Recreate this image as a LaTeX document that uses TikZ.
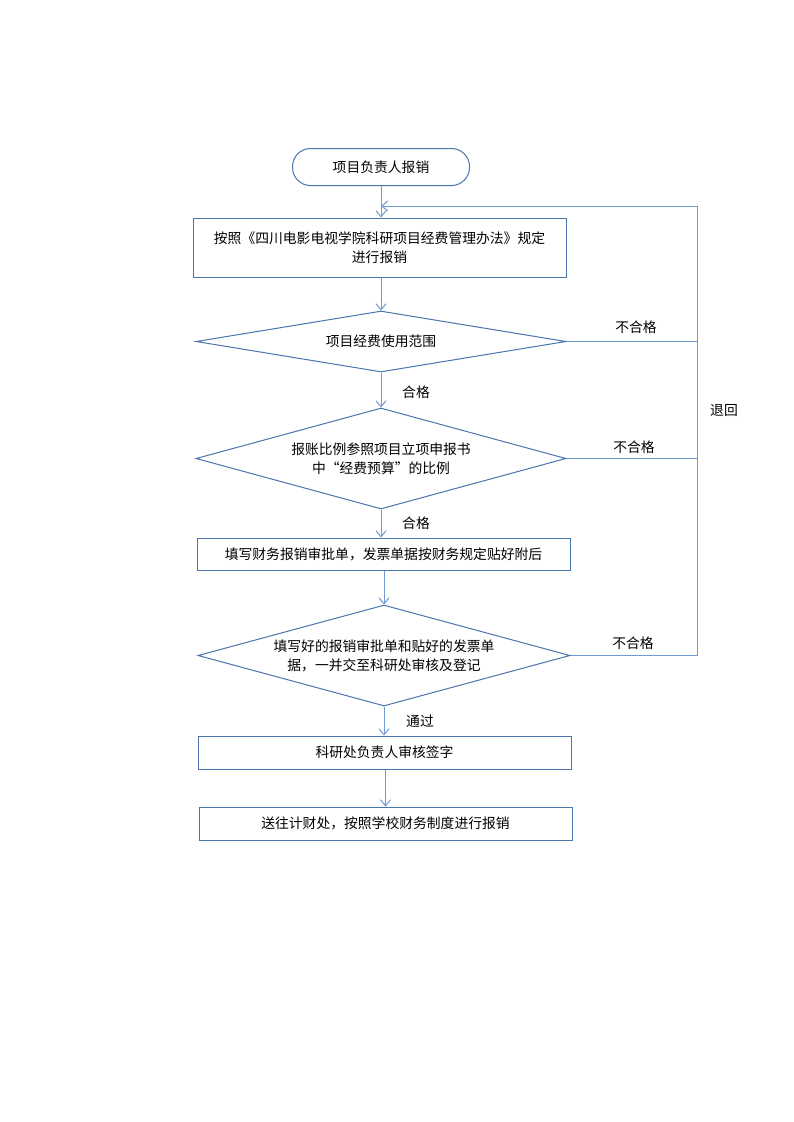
\documentclass[tikz,border=0pt]{standalone}
\usepackage{fontspec}
\setmainfont{Noto Sans CJK SC}
\usetikzlibrary{shapes.geometric,arrows.meta}
\definecolor{shapeblue}{HTML}{4A75AE}
\definecolor{lineblue}{HTML}{6F9BD0}
\tikzset{
  shp/.style={draw=shapeblue,line width=1pt,inner sep=0pt},
  boxnode/.style={shp,rectangle,minimum width=373pt},
  dia/.style={shp,diamond},
  txt/.style={font=\fontsize{13.8pt}{19pt}\selectfont,align=center,inner sep=0pt},
  conn/.style={draw=lineblue,line width=1pt},
  arr/.style={conn,-{Straight Barb[length=6pt,width=10pt]}},
  lbl/.style={font=\fontsize{13.8pt}{16pt}\selectfont,inner sep=0pt}
}
\begin{document}
\begin{tikzpicture}[x=1pt,y=-1pt]
\useasboundingbox (0,0) rectangle (793,1122);
\fill[white] (0,0) rectangle (793,1122);
% nodes
\node[shp,rectangle,rounded corners=18pt,minimum width=177pt,minimum height=37pt,txt] (start) at (381,167) {项目负责人报销};
\node[boxnode,minimum height=59pt,txt] (b1) at (379.5,247.5) {按照《四川电影电视学院科研项目经费管理办法》规定\\进行报销};
\node[dia,minimum width=370pt,minimum height=61pt] (d1) at (381,341.5) {};
\node[txt] (d1t) at (d1) {项目经费使用范围};
\node[dia,minimum width=370pt,minimum height=101pt] (d2) at (381,458.5) {};
\node[txt] (d2t) at (d2) {报账比例参照项目立项申报书\\中“经费预算”的比例};
\node[boxnode,minimum height=32pt,txt] (b2) at (383.5,554) {填写财务报销审批单，发票单据按财务规定贴好附后};
\node[dia,minimum width=372pt,minimum height=101pt] (d3) at (384,655.5) {};
\node[txt] (d3t) at (d3) {填写好的报销审批单和贴好的发票单\\据，一并交至科研处审核及登记};
\node[boxnode,minimum height=33pt,txt] (b3) at (384.5,752.5) {科研处负责人审核签字};
\node[boxnode,minimum height=33pt,txt] (b4) at (385.5,823.5) {送往计财处，按照学校财务制度进行报销};
% loop coordinates
\coordinate (r0) at (697,206);
\coordinate (m0) at (381,206);
\coordinate (r1) at (697,341.5);
\coordinate (r2) at (697,458.5);
\coordinate (r3) at (697,655.5);
% connectors
\draw[arr] (start.south) -- (start.south |- b1.north);
\draw[arr] (b1.south -| d1.north) -- (d1.north);
\draw[arr] (d1.south) -- (d2.north);
\draw[arr] (d2.south) -- (d2.south |- b2.north);
\draw[arr] (b2.south -| d3.north) -- (d3.north);
\draw[arr] (d3.south) -- (d3.south |- b3.north);
\draw[arr] (b3.south -| b4.north) -- (b4.north);
\draw[conn] (d1.east) -- (r1);
\draw[conn] (d2.east) -- (r2);
\draw[conn] (d3.east) -- (r3) -- (r0);
\draw[arr] (r0) -- (m0);
% labels
\node[lbl] (n1) at (636,327) {不合格};
\node[lbl] (n2) at (634,447) {不合格};
\node[lbl] (n3) at (633,643) {不合格};
\node[lbl] (h1) at (416,392) {合格};
\node[lbl] (h2) at (416,523) {合格};
\node[lbl] (tg) at (420,721) {通过};
\node[lbl] (th) at (724,411) {退回};
\end{tikzpicture}
\end{document}
